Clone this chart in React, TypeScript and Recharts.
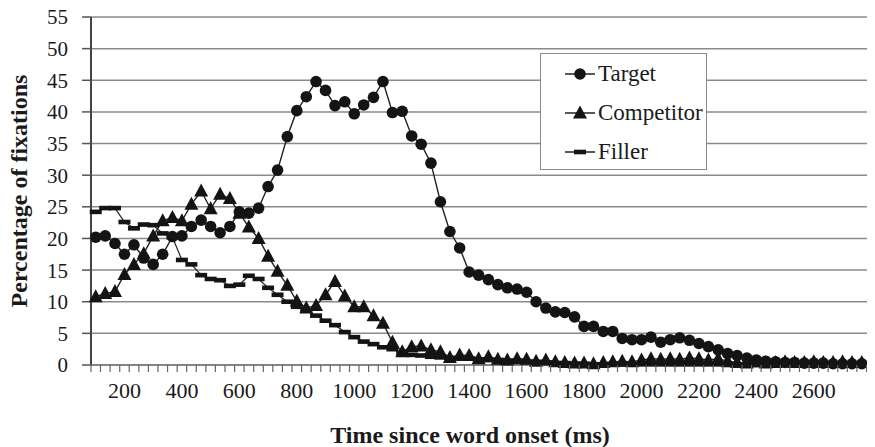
import { LineChart, Line, XAxis, YAxis, CartesianGrid, Legend } from 'recharts'

const SERIF = '"Liberation Serif", "Times New Roman", serif'

// time bins (ms), ~33 ms each
const times = [
  100, 133, 167, 200, 233, 267, 300, 333, 367, 400,
  433, 467, 500, 533, 567, 600, 633, 667, 700, 733,
  767, 800, 833, 867, 900, 933, 967, 1000, 1033, 1067,
  1100, 1133, 1167, 1200, 1233, 1267, 1300, 1333, 1367, 1400,
  1433, 1467, 1500, 1533, 1567, 1600, 1633, 1667, 1700, 1733,
  1767, 1800, 1833, 1867, 1900, 1933, 1967, 2000, 2033, 2067,
  2100, 2133, 2167, 2200, 2233, 2267, 2300, 2333, 2367, 2400,
  2433, 2467, 2500, 2533, 2567, 2600, 2633, 2667, 2700, 2733,
  2767,
]

const target = [
  20.2, 20.4, 19.2, 17.5, 19.0, 16.9, 15.9, 17.5, 20.3, 20.4,
  21.9, 22.9, 21.9, 20.9, 21.9, 24.2, 24.0, 24.8, 28.2, 30.8,
  36.1, 40.2, 42.4, 44.8, 43.4, 41.0, 41.6, 39.7, 41.1, 42.3,
  44.8, 39.9, 40.1, 36.2, 34.9, 31.9, 25.8, 21.1, 18.5, 14.7,
  14.2, 13.5, 12.7, 12.2, 12.0, 11.5, 10.0, 9.0, 8.4, 8.3,
  7.6, 6.1, 6.1, 5.3, 5.3, 4.2, 4.0, 4.0, 4.4, 3.6,
  4.0, 4.3, 3.9, 3.4, 2.9, 2.4, 1.8, 1.5, 1.1, 0.8,
  0.6, 0.5, 0.4, 0.4, 0.3, 0.3, 0.3, 0.2, 0.2, 0.2,
  0.2,
]

const competitor = [
  10.8, 11.3, 11.6, 14.3, 15.9, 17.6, 20.4, 22.8, 23.3, 22.8,
  25.4, 27.5, 24.7, 27.0, 26.3, 24.0, 21.8, 20.0, 17.2, 14.8,
  12.6, 10.1, 9.0, 9.4, 11.1, 13.2, 10.9, 9.2, 9.2, 7.8,
  6.6, 3.6, 2.1, 2.9, 3.0, 2.4, 2.1, 1.2, 1.6, 1.5,
  1.0, 1.3, 0.9, 0.8, 1.0, 0.9, 0.6, 0.8, 0.5, 0.4,
  0.3, 0.3, 0.2, 0.4, 0.5, 0.6, 0.5, 0.8, 1.0, 0.9,
  1.0, 0.9, 1.1, 1.0, 0.8, 1.0, 0.6, 0.4, 0.3, 0.5,
  0.3, 0.4, 0.5, 0.4, 0.4, 0.5, 0.4, 0.4, 0.5, 0.4,
  0.4,
]

const filler = [
  24.2, 24.8, 24.8, 22.6, 21.6, 22.2, 22.1, 20.8, 20.2, 16.6,
  15.9, 14.2, 13.6, 13.4, 12.5, 12.7, 14.1, 13.6, 12.2, 11.1,
  10.0, 9.2, 8.6, 7.8, 7.0, 6.3, 5.2, 4.4, 3.7, 3.3,
  2.8, 2.5, 1.9, 1.6, 1.5, 1.3, 1.2, 1.1, 1.0, 1.0,
  0.9, 0.8, 0.8, 0.7, 0.6, 0.5, 0.5, 0.4, 0.3, 0.3,
  0.2, 0.2, 0.1, 0.1, 0.1, 0.1, 0.1, 0.1, 0.1, 0.1,
  0.1, 0.1, 0.1, 0.1, 0.1, 0.1, 0.0, 0.0, 0.0, 0.0,
  0.0, 0.0, 0.0, 0.0, 0.0, 0.0, 0.0, 0.0, 0.0, 0.0,
  0.0,
]

const xLabels = [200, 400, 600, 800, 1000, 1200, 1400, 1600, 1800, 2000, 2200, 2400, 2600]
const yTicks = [0, 5, 10, 15, 20, 25, 30, 35, 40, 45, 50, 55]
const seriesOrder = ['target', 'competitor', 'filler']

const data = times.map((t, i) => ({
  t,
  target: target[i],
  competitor: competitor[i],
  filler: filler[i],
}))

// small tick marks sit on the edges between time bins
const half = (times[1] - times[0]) / 2
const binEdges = [
  times[0] - half,
  ...times.slice(1).map((t, i) => (times[i] + t) / 2),
  times[times.length - 1] + half,
]
const xTicks = [...binEdges, ...xLabels].sort((a, b) => a - b)

type Kind = 'target' | 'competitor' | 'filler'

function Marker({ kind, cx, cy }: { kind: Kind; cx: number; cy: number }) {
  if (cx == null || cy == null) return null
  if (kind === 'target') return <circle cx={cx} cy={cy} r={5.8} fill="#141414" />
  if (kind === 'competitor')
    return (
      <polygon
        points={`${cx},${cy - 7.5} ${cx + 7},${cy + 5.5} ${cx - 7},${cy + 5.5}`}
        fill="#141414"
      />
    )
  return <rect x={cx - 6} y={cy - 2.3} width={12} height={4.6} fill="#141414" />
}

function TimeTick(props: any) {
  const { x, y, payload } = props
  if (xLabels.includes(payload.value)) {
    return (
      <text x={x} y={y + 26} textAnchor="middle" fontFamily={SERIF} fontSize={22} fill="#1a1a1a">
        {payload.value}
      </text>
    )
  }
  return <line x1={x} x2={x} y1={y - 7} y2={y} stroke="#666" strokeWidth={1.2} />
}

function LegendBox(props: any) {
  const payload = [...(props.payload ?? [])].sort(
    (a: any, b: any) => seriesOrder.indexOf(a.dataKey) - seriesOrder.indexOf(b.dataKey)
  )
  return (
    <div
      style={{
        width: 167,
        height: 117,
        boxSizing: 'border-box',
        border: '1.5px solid #8a8a8a',
        background: '#fff',
      }}
    >
      {payload.map((entry: any) => (
        <div key={entry.value} style={{ display: 'flex', alignItems: 'center', height: 39 }}>
          <svg width={57} height={20} style={{ flex: 'none' }}>
            <line x1={24} x2={54} y1={10} y2={10} stroke="#222" strokeWidth={1.5} />
            <Marker kind={entry.dataKey as Kind} cx={39} cy={10} />
          </svg>
          <span style={{ fontFamily: SERIF, fontSize: 23, color: '#1a1a1a', lineHeight: 1 }}>
            {entry.value}
          </span>
        </div>
      ))}
    </div>
  )
}

export default function App() {
  return (
    <div style={{ margin: '-8px 0 0 -8px', width: 875, height: 447 }}>
      <LineChart
        width={875}
        height={447}
        data={data}
        margin={{ top: 17, right: 0, bottom: 0, left: 0 }}
        style={{ fontFamily: SERIF }}
      >
        <CartesianGrid vertical={false} stroke="#8a8a8a" strokeWidth={1.5} />
        <XAxis
          dataKey="t"
          type="number"
          domain={[binEdges[0], 2813]}
          ticks={xTicks}
          interval={0}
          height={82}
          tickSize={7}
          tickMargin={0}
          tickLine={false}
          tick={<TimeTick />}
          axisLine={{ stroke: '#7a7a7a', strokeWidth: 1.5 }}
          label={{
            value: 'Time since word onset (ms)',
            position: 'insideBottom',
            offset: 4,
            dx: -13,
            style: { fontFamily: SERIF, fontSize: 24, fontWeight: 'bold', fill: '#1a1a1a' },
          }}
        />
        <YAxis
          domain={[0, 55]}
          ticks={yTicks}
          interval={0}
          width={91}
          tickSize={9}
          tickMargin={14}
          tick={{ fontFamily: SERIF, fontSize: 21, fill: '#1a1a1a' }}
          tickLine={{ stroke: '#555', strokeWidth: 1.5 }}
          axisLine={{ stroke: '#444', strokeWidth: 2 }}
          label={{
            value: 'Percentage of fixations',
            angle: -90,
            position: 'insideLeft',
            offset: 18,
            style: { textAnchor: 'middle', fontFamily: SERIF, fontSize: 24, fontWeight: 'bold', fill: '#1a1a1a' },
          }}
        />
        <Legend
          layout="horizontal"
          verticalAlign="middle"
          align="center"
          content={<LegendBox />}
          wrapperStyle={{ left: 540, top: 53, width: 167, height: 117 }}
        />
        <Line
          dataKey="target"
          name="Target"
          stroke="#222"
          strokeWidth={1.4}
          isAnimationActive={false}
          activeDot={false}
          dot={(p: any) => <Marker key={`t${p.index}`} kind="target" cx={p.cx} cy={p.cy} />}
        />
        <Line
          dataKey="competitor"
          name="Competitor"
          stroke="#222"
          strokeWidth={1.4}
          isAnimationActive={false}
          activeDot={false}
          dot={(p: any) => <Marker key={`c${p.index}`} kind="competitor" cx={p.cx} cy={p.cy} />}
        />
        <Line
          dataKey="filler"
          name="Filler"
          stroke="#222"
          strokeWidth={1.2}
          isAnimationActive={false}
          activeDot={false}
          dot={(p: any) => <Marker key={`f${p.index}`} kind="filler" cx={p.cx} cy={p.cy} />}
        />
      </LineChart>
    </div>
  )
}
